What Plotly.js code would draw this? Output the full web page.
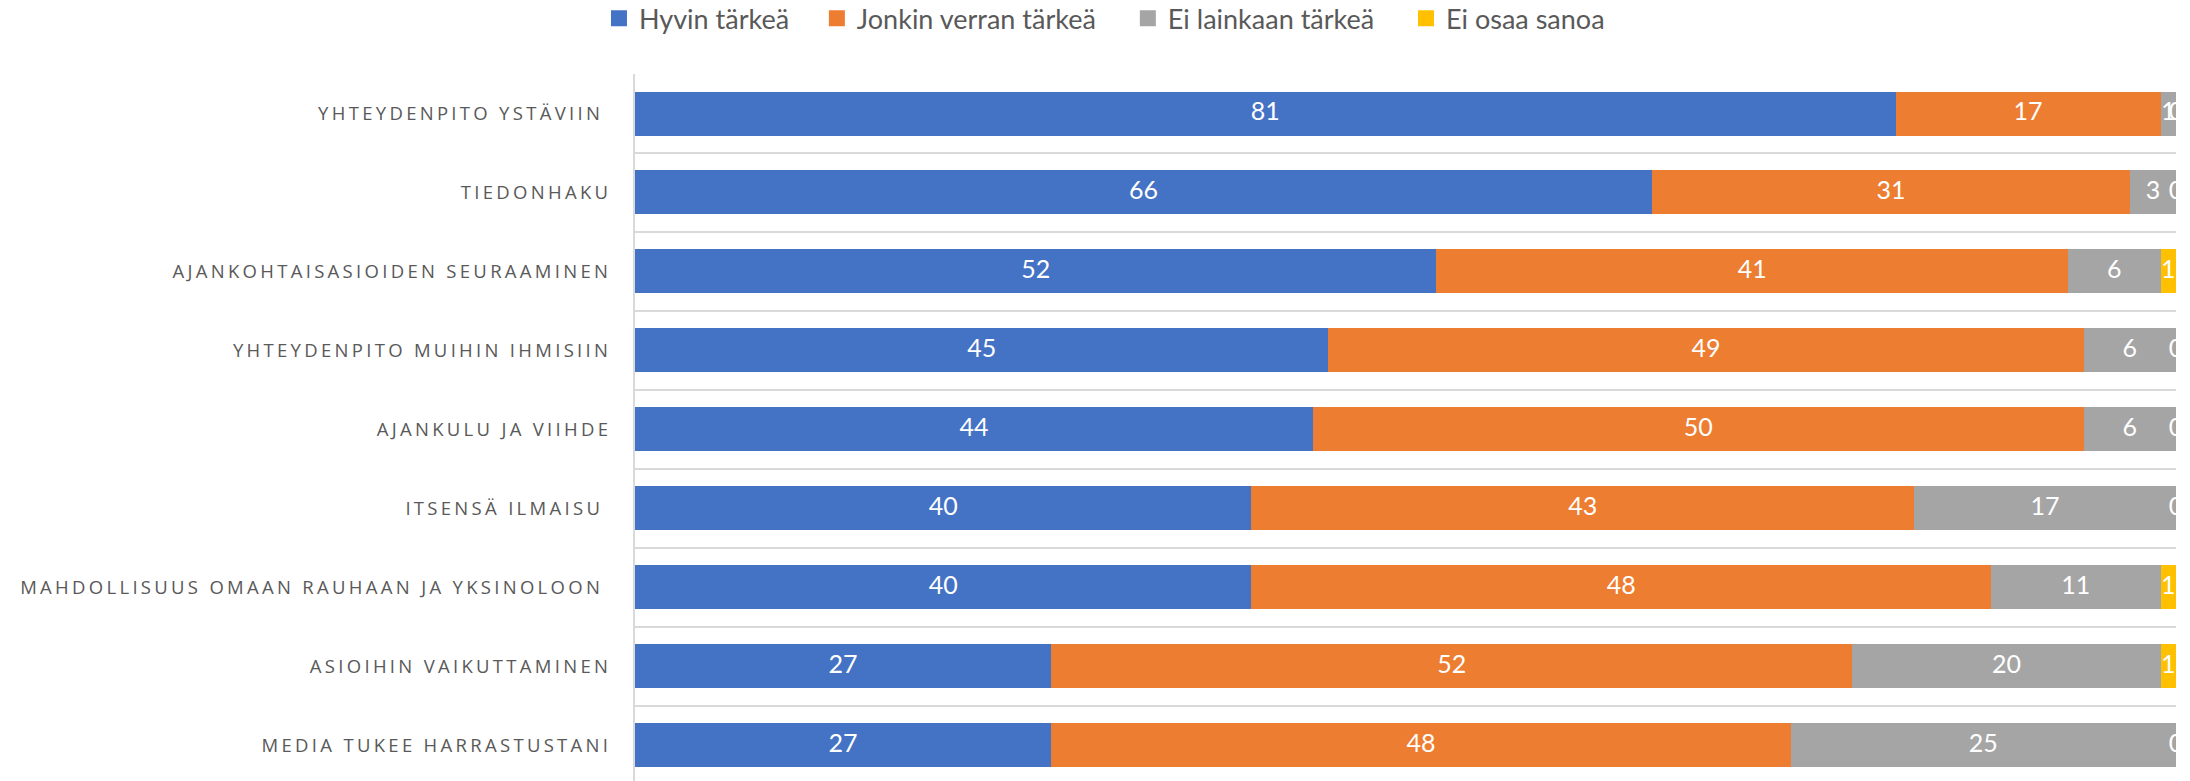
<!DOCTYPE html>
<html>
<head>
<meta charset="utf-8">
<script src="https://cdn.plot.ly/plotly-3.0.1.min.js"></script>
<style>
html, body { margin: 0; padding: 0; background: #ffffff; }
#chart .ytick text { letter-spacing: 3.3px; }
</style>
</head>
<body>
<div id="chart" style="width:2190px;height:781px;"></div>
<script>
// ---- data ----
// (some source labels end with a trailing space, kept as a no-break space)
const categories = [
  'YHTEYDENPITO YSTÄVIIN\u00a0',
  'TIEDONHAKU',
  'AJANKOHTAISASIOIDEN SEURAAMINEN',
  'YHTEYDENPITO MUIHIN IHMISIIN',
  'AJANKULU JA VIIHDE',
  'ITSENSÄ ILMAISU\u00a0',
  'MAHDOLLISUUS OMAAN RAUHAAN JA YKSINOLOON\u00a0',
  'ASIOIHIN VAIKUTTAMINEN',
  'MEDIA TUKEE HARRASTUSTANI'
];
const seriesNames = ['Hyvin tärkeä', 'Jonkin verran tärkeä', 'Ei lainkaan tärkeä', 'Ei osaa sanoa'];

// bar lengths
const hyvin      = [81.8, 66, 52, 45, 44, 40, 40, 27, 27];
const jonkin     = [17.2, 31, 41, 49, 50, 43, 48, 52, 48];
const eiLainkaan = [1, 3, 6, 6, 6, 17, 11, 20, 25];
const eiOsaa     = [0, 0, 1, 0, 0, 0, 1, 1, 0];

// data labels as printed in the picture
const hyvinLabels      = ['81', '66', '52', '45', '44', '40', '40', '27', '27'];
const jonkinLabels     = ['17', '31', '41', '49', '50', '43', '48', '52', '48'];
const eiLainkaanLabels = ['1', '3', '6', '6', '6', '17', '11', '20', '25'];
const eiOsaaLabels     = ['0', '0', '1', '0', '0', '0', '1', '1', '0'];

// ---- build ----
const series = [hyvin, jonkin, eiLainkaan, eiOsaa];
const labels = [hyvinLabels, jonkinLabels, eiLainkaanLabels, eiOsaaLabels];
const colors = ['#4472C4', '#ED7D31', '#A5A5A5', '#FFC000'];
const legendIds = ['legend', 'legend2', 'legend3', 'legend4'];
const legendX = [0.2735, 0.373, 0.515, 0.642];
const yIdx = categories.map((_, i) => i);

const barTraces = [];
const labelTraces = [];
const legendTraces = [];
const base = categories.map(() => 0);

series.forEach((vals, k) => {
  barTraces.push({
    type: 'bar', orientation: 'h', name: seriesNames[k],
    x: vals, y: yIdx,
    marker: { color: colors[k], line: { width: 0 } },
    showlegend: false, hoverinfo: 'skip'
  });
  labelTraces.push({
    type: 'scatter', mode: 'text',
    x: vals.map((v, i) => base[i] + v / 2), y: yIdx,
    text: labels[k],
    textposition: 'middle center',
    textfont: { family: 'Lato, Carlito, sans-serif', size: 25, color: '#FFFFFF' },
    cliponaxis: true, showlegend: false, hoverinfo: 'skip'
  });
  legendTraces.push({
    type: 'scatter', mode: 'markers', name: seriesNames[k],
    x: [null], y: [null],
    marker: { symbol: 'square', size: 16, color: colors[k] },
    showlegend: true, legend: legendIds[k], hoverinfo: 'skip'
  });
  vals.forEach((v, i) => { base[i] += v; });
});

const boundaries = yIdx.map(i => i - 0.5).concat([categories.length - 0.5]);

const layout = {
  width: 2190, height: 781,
  autosize: false,
  margin: { l: 635, r: 14, t: 74, b: 0, pad: 0 },
  paper_bgcolor: '#ffffff', plot_bgcolor: '#ffffff',
  barmode: 'stack', bargap: 0.443,
  xaxis: {
    range: [0, 100], showgrid: false, zeroline: false,
    showticklabels: false, showline: false, ticks: '', fixedrange: true
  },
  yaxis: {
    range: [8.45, -0.5], tickmode: 'array', tickvals: yIdx, ticktext: categories,
    showgrid: false, zeroline: false, ticks: '',
    showline: true, linecolor: '#d9d9d9', linewidth: 2,
    ticklabelstandoff: 18, automargin: false, fixedrange: true,
    tickfont: { family: 'Open Sans, sans-serif', size: 18.5, color: '#595959' },
    minor: { tickmode: 'array', tickvals: boundaries, showgrid: true, gridcolor: '#d9d9d9', gridwidth: 1.7, ticks: '' }
  },
  showlegend: true
};

legendIds.forEach((id, k) => {
  layout[id] = {
    orientation: 'h', xref: 'container', yref: 'container',
    x: legendX[k], xanchor: 'left', y: 0.976, yanchor: 'middle',
    font: { family: 'Lato, Carlito, sans-serif', size: 27, color: '#595959' },
    itemwidth: 30, bgcolor: 'rgba(0,0,0,0)', borderwidth: 0
  };
});

Plotly.newPlot('chart', barTraces.concat(labelTraces, legendTraces), layout, { displayModeBar: false, staticPlot: true });
</script>
</body>
</html>
